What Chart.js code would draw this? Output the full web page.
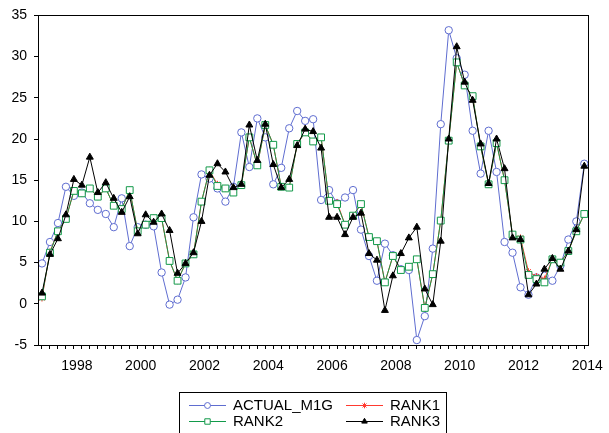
<!DOCTYPE html>
<html>
<head>
<meta charset="utf-8">
<script src="https://cdn.jsdelivr.net/npm/chart.js@4"></script>
<style>
  html, body { margin: 0; padding: 0; background: #fff; }
  #wrap { width: 609px; height: 433px; }
</style>
</head>
<body>
<div id="wrap"><canvas id="grafik" width="609" height="433"></canvas></div>
<script>
// Kategori: kuartal 1997Q1 - 2014Q1
const quarters = [];
for (let y = 1997; y <= 2014; y++) {
    for (let q = 1; q <= 4; q++) {
        if (y === 2014 && q > 1) break;
        quarters.push(y + 'Q' + q);
    }
}
const yearLabels = ['1998', '2000', '2002', '2004', '2006', '2008', '2010', '2012', '2014'];

// Data seri
const actualM1G = [
    4.9, 7.5, 9.8, 14.2, 13.1, 13.5, 12.2, 11.4, 10.9, 9.3,
    12.8, 7.0, 9.3, 9.6, 9.4, 3.8, -0.1, 0.5, 3.2, 10.5,
    15.7, 15.2, 14.0, 12.4, 14.2, 20.8, 16.6, 22.5, 20.2, 14.5,
    16.5, 21.3, 23.4, 22.2, 22.4, 12.6, 13.8, 12.2, 12.9, 13.8,
    9.0, 5.8, 2.8, 7.3, 5.9, 4.2, 4.1, -4.4, -1.5, 6.7,
    21.8, 33.2, 29.8, 27.8, 21.0, 15.8, 21.0, 16.0, 7.5, 6.2,
    2.0, 1.1, 3.2, 3.4, 2.8, 4.6, 7.8, 10.0, 17.0
];
const rank1 = [
    0.7, 6.3, 8.8, 10.3, 13.7, 13.4, 14.0, 13.0, 14.0, 11.9,
    11.5, 13.8, 8.8, 9.6, 10.4, 10.4, 5.2, 2.8, 4.9, 6.0,
    12.4, 16.2, 14.5, 14.0, 13.5, 14.4, 20.2, 16.8, 21.7, 19.3,
    14.2, 14.1, 19.4, 20.8, 19.7, 20.2, 12.5, 12.3, 9.6, 10.7,
    12.1, 8.1, 7.6, 2.6, 5.8, 4.1, 4.5, 5.4, -0.5, 3.6,
    10.1, 19.8, 29.3, 26.5, 25.2, 19.1, 14.5, 19.5, 15.0, 8.4,
    8.0, 3.9, 3.3, 3.0, 5.4, 5.0, 6.4, 8.8, 10.9
];
const rank2 = [
    0.9, 6.2, 8.8, 10.3, 13.7, 13.4, 14.0, 13.0, 14.0, 11.9,
    11.5, 13.8, 8.8, 9.6, 10.4, 10.4, 5.2, 2.8, 4.9, 6.0,
    12.4, 16.2, 14.3, 14.0, 13.5, 14.4, 20.2, 16.8, 21.7, 19.3,
    14.2, 14.1, 19.4, 20.8, 19.7, 20.2, 12.5, 12.1, 9.6, 10.7,
    12.1, 8.1, 7.6, 2.6, 5.8, 4.1, 4.5, 5.4, -0.5, 3.6,
    10.1, 19.8, 29.3, 26.5, 25.2, 19.1, 14.5, 19.5, 15.0, 8.4,
    7.8, 3.5, 3.0, 2.6, 5.4, 5.0, 6.4, 8.8, 10.9
];
const rank3 = [
    1.3, 6.0, 7.9, 10.8, 15.1, 14.4, 17.8, 13.5, 14.7, 12.8,
    11.1, 13.0, 8.5, 10.8, 9.9, 10.9, 8.9, 3.7, 4.9, 6.2,
    10.0, 15.6, 17.0, 16.0, 14.1, 14.5, 21.7, 17.4, 21.8, 16.9,
    14.1, 15.1, 19.2, 21.2, 20.9, 18.9, 10.5, 10.5, 8.4, 10.5,
    11.0, 6.1, 5.3, -0.8, 3.4, 6.1, 8.0, 9.3, 1.8, -0.1,
    7.6, 20.0, 31.2, 26.9, 24.7, 19.4, 14.6, 20.0, 16.4, 8.0,
    7.8, 1.1, 2.4, 4.2, 5.5, 4.2, 6.4, 9.0, 16.7
];

const FONT = '"Liberation Sans", Arial, sans-serif';
const warnaBiru = '#5f6dd0';
const warnaMerah = '#ff3a30';
const warnaHijau = '#129a4a';
const warnaHitam = '#000000';

// Bingkai di sekeliling area plot
const bingkai = {
    id: 'bingkai',
    afterDatasetsDraw(chart) {
        const { ctx, chartArea: a } = chart;
        ctx.save();
        ctx.strokeStyle = '#000';
        ctx.lineWidth = 1;
        ctx.strokeRect(Math.round(a.left) + 0.5, Math.round(a.top) + 0.5,
            Math.round(a.right - a.left), Math.round(a.bottom - a.top));
        ctx.restore();
    }
};

// Legenda kotak dua kolom
const legendaKotak = {
    id: 'legendaKotak',
    afterDraw(chart) {
        const ctx = chart.ctx;
        const items = chart.data.datasets.map((ds, i) => ({ ds, meta: chart.getDatasetMeta(i) }));
        const box = { x: 179, y: 392, w: 267, h: 41 };
        ctx.save();
        ctx.strokeStyle = '#000';
        ctx.lineWidth = 1;
        ctx.strokeRect(box.x + 0.5, box.y + 0.5, box.w, box.h);
        const cols = [189, 346];
        const rows = [405, 421];
        ctx.font = '15px ' + FONT;
        ctx.textBaseline = 'middle';
        ctx.textAlign = 'left';
        items.forEach((it, i) => {
            const x0 = cols[i % 2];
            const y0 = rows[Math.floor(i / 2)];
            ctx.strokeStyle = it.ds.borderColor;
            ctx.lineWidth = 1;
            ctx.beginPath();
            ctx.moveTo(x0, y0 + 0.5);
            ctx.lineTo(x0 + 37, y0 + 0.5);
            ctx.stroke();
            ctx.fillStyle = it.ds.pointBackgroundColor;
            ctx.strokeStyle = it.ds.borderColor;
            Chart.helpers.drawPoint(ctx, {
                pointStyle: it.ds.pointStyle,
                radius: it.ds.pointRadius * 0.8,
                borderWidth: 1,
                rotation: 0
            }, x0 + 18.5, y0 + 0.5);
            ctx.fillStyle = '#000';
            ctx.fillText(it.ds.label, x0 + 44, y0 + 1);
        });
        ctx.restore();
    }
};

const ctx = document.getElementById('grafik').getContext('2d');
const chart = new Chart(ctx, {
    type: 'line',
    data: {
        labels: quarters,
        datasets: [
            {
                label: 'ACTUAL_M1G',
                data: actualM1G,
                borderColor: warnaBiru,
                backgroundColor: '#fff',
                pointBackgroundColor: '#fff',
                pointBorderColor: warnaBiru,
                pointStyle: 'circle',
                pointRadius: 3.7,
                borderWidth: 1,
                pointBorderWidth: 1,
                order: 4
            },
            {
                label: 'RANK1',
                data: rank1,
                borderColor: warnaMerah,
                backgroundColor: warnaMerah,
                pointBackgroundColor: warnaMerah,
                pointBorderColor: warnaMerah,
                pointStyle: 'star',
                pointRadius: 3.5,
                borderWidth: 1,
                pointBorderWidth: 1,
                order: 3
            },
            {
                label: 'RANK2',
                data: rank2,
                borderColor: warnaHijau,
                backgroundColor: '#fff',
                pointBackgroundColor: '#fff',
                pointBorderColor: warnaHijau,
                pointStyle: 'rect',
                pointRadius: 4.8,
                borderWidth: 1,
                pointBorderWidth: 1,
                order: 2
            },
            {
                label: 'RANK3',
                data: rank3,
                borderColor: warnaHitam,
                backgroundColor: warnaHitam,
                pointBackgroundColor: warnaHitam,
                pointBorderColor: warnaHitam,
                pointStyle: 'triangle',
                pointRadius: 4,
                borderWidth: 1,
                pointBorderWidth: 1,
                order: 1
            }
        ]
    },
    options: {
        responsive: false,
        animation: false,
        layout: { padding: { top: 13, right: 18, left: 0, bottom: 0 } },
        plugins: {
            legend: { display: false },
            tooltip: { enabled: false }
        },
        elements: { line: { tension: 0 } },
        scales: {
            x: {
                type: 'category',
                offset: true,
                afterFit(scale) { scale.height = 88; },
                grid: {
                    display: true,
                    drawOnChartArea: false,
                    drawTicks: true,
                    tickLength: 4,
                    tickColor: '#000',
                    offset: false
                },
                border: { display: true, color: '#000' },
                ticks: {
                    autoSkip: false,
                    maxRotation: 0,
                    minRotation: 0,
                    padding: 9,
                    labelOffset: 3,
                    color: '#000',
                    font: { family: FONT, size: 14 },
                    callback: function(value) {
                        const lab = this.getLabelForValue(value);
                        const th = lab.slice(0, 4);
                        if (lab.endsWith('Q1') && yearLabels.includes(th)) return th;
                        return '';
                    }
                }
            },
            y: {
                min: -5,
                max: 35,
                afterFit(scale) { scale.width = 38; },
                grid: {
                    display: true,
                    drawOnChartArea: false,
                    drawTicks: true,
                    tickLength: 4,
                    tickColor: '#000'
                },
                border: { display: true, color: '#000' },
                ticks: {
                    stepSize: 5,
                    padding: 7,
                    color: '#000',
                    font: { family: FONT, size: 14 }
                }
            }
        }
    },
    plugins: [bingkai, legendaKotak]
});
</script>
</body>
</html>
